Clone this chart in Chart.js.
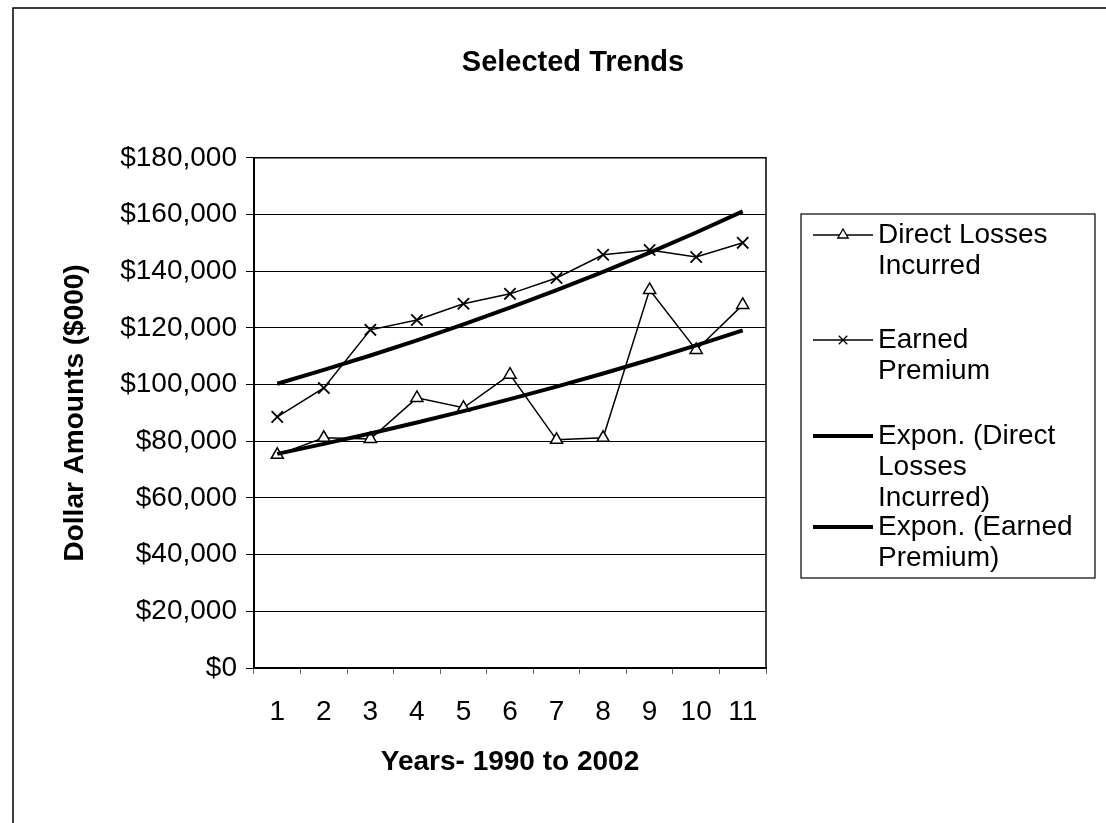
<!DOCTYPE html>
<html>
<head>
<meta charset="utf-8">
<title>Selected Trends</title>
<script src="https://cdn.jsdelivr.net/npm/chart.js@4.4.1/dist/chart.umd.min.js"></script>
<style>
    html, body { margin: 0; padding: 0; background: #fff; }
    #wrap { width: 1106px; height: 823px; }
</style>
</head>
<body>
<div id="wrap"><canvas id="chart-trends" width="1106" height="823"></canvas></div>
<script>
// === Dados do gráfico ===
// Anos (1 = 1990 ... 11)
const years = ['1', '2', '3', '4', '5', '6', '7', '8', '9', '10', '11'];

// Valores em $000
const directLosses = [75200, 81200, 80800, 95300, 91800, 103500, 80500, 81200, 133400, 112200, 128100];
const earnedPremium = [88600, 98800, 119300, 122800, 128500, 132000, 137600, 145800, 147500, 145000, 150000];

// Marcas do eixo Y
const yTickValues = [0, 20000, 40000, 60000, 80000, 100000, 120000, 140000, 160000, 180000];
const yTickLabels = ['$0', '$20,000', '$40,000', '$60,000', '$80,000', '$100,000', '$120,000', '$140,000', '$160,000', '$180,000'];

const FONT = "'Liberation Sans', Arial, Helvetica, sans-serif";

// Função para calcular a tendência exponencial (mínimos quadrados sobre ln y)
function expTrend(values) {
    const n = values.length;
    const xs = values.map((v, i) => i + 1);
    const ln = values.map(v => Math.log(v));
    const mx = xs.reduce((a, b) => a + b, 0) / n;
    const my = ln.reduce((a, b) => a + b, 0) / n;
    let sxy = 0, sxx = 0;
    xs.forEach((x, i) => {
        sxy += (x - mx) * (ln[i] - my);
        sxx += (x - mx) * (x - mx);
    });
    const b = sxy / sxx;
    const a = my - b * mx;
    return xs.map(x => Math.exp(a + b * x));
}

// Plugin para moldura externa, borda da área do gráfico e legenda
const frameLegendPlugin = {
    id: 'frameLegend',
    afterDraw(chart, args, opts) {
        const ctx = chart.ctx;
        const area = chart.chartArea;
        ctx.save();

        // Borda superior e direita da área de plotagem
        ctx.strokeStyle = '#000';
        ctx.lineWidth = 1.5;
        ctx.beginPath();
        ctx.moveTo(area.left, area.top);
        ctx.lineTo(area.right, area.top);
        ctx.lineTo(area.right, area.bottom);
        ctx.stroke();

        // Moldura externa
        ctx.lineWidth = 1.5;
        ctx.beginPath();
        ctx.moveTo(13, 823);
        ctx.lineTo(13, 8);
        ctx.lineTo(1106, 8);
        ctx.stroke();

        // Caixa da legenda
        const box = opts.box;
        ctx.lineWidth = 1.2;
        ctx.strokeRect(box.left, box.top, box.right - box.left, box.bottom - box.top);

        ctx.font = `${opts.fontSize}px ${FONT}`;
        ctx.textBaseline = 'middle';
        ctx.textAlign = 'left';
        ctx.fillStyle = '#000';

        chart.data.datasets.forEach((ds, i) => {
            const y = opts.rowY[i];
            // Amostra da linha
            ctx.strokeStyle = '#000';
            ctx.lineWidth = ds.borderWidth;
            ctx.beginPath();
            ctx.moveTo(opts.sampleX0, y);
            ctx.lineTo(opts.sampleX1, y);
            ctx.stroke();
            // Marcador
            if (ds.pointRadius > 0) {
                ctx.fillStyle = '#fff';
                ctx.lineWidth = 1.3;
                Chart.helpers.drawPoint(ctx, {
                    pointStyle: ds.pointStyle,
                    radius: opts.markerRadius,
                    rotation: 0,
                    borderWidth: 1.3
                }, (opts.sampleX0 + opts.sampleX1) / 2, y);
            }
            // Texto com quebra de linha
            ctx.fillStyle = '#000';
            const words = ds.label.split(' ');
            const lines = [];
            let line = '';
            words.forEach(w => {
                const test = line ? line + ' ' + w : w;
                if (ctx.measureText(test).width > opts.textWidth && line) {
                    lines.push(line);
                    line = w;
                } else {
                    line = test;
                }
            });
            lines.push(line);
            lines.forEach((l, k) => {
                ctx.fillText(l, opts.textX, y + k * opts.lineHeight);
            });
        });
        ctx.restore();
    }
};

// Criar gráfico
function createTrendsChart() {
    const ctx = document.getElementById('chart-trends');

    window.trendsChart = new Chart(ctx, {
        type: 'line',
        data: {
            labels: years,
            datasets: [{
                label: 'Direct Losses Incurred',
                data: directLosses,
                borderColor: '#000',
                borderWidth: 1.5,
                pointStyle: 'triangle',
                pointRadius: 7,
                pointBackgroundColor: '#fff',
                pointBorderColor: '#000',
                pointBorderWidth: 1.5,
                tension: 0,
                order: 3
            }, {
                label: 'Earned Premium',
                data: earnedPremium,
                borderColor: '#000',
                borderWidth: 1.5,
                pointStyle: 'crossRot',
                pointRadius: 8,
                pointBorderColor: '#000',
                pointBorderWidth: 1.8,
                tension: 0,
                order: 4
            }, {
                label: 'Expon. (Direct Losses Incurred)',
                data: expTrend(directLosses),
                borderColor: '#000',
                borderWidth: 4,
                pointRadius: 0,
                tension: 0,
                order: 1
            }, {
                label: 'Expon. (Earned Premium)',
                data: expTrend(earnedPremium),
                borderColor: '#000',
                borderWidth: 4,
                pointRadius: 0,
                tension: 0,
                order: 2
            }]
        },
        options: {
            responsive: false,
            animation: false,
            layout: { padding: { left: 40, right: 0, top: 0, bottom: 0 } },
            plugins: {
                legend: { display: false },
                tooltip: { enabled: false },
                title: {
                    display: true,
                    text: 'Selected Trends',
                    color: '#000',
                    font: { family: FONT, size: 29, weight: 'bold' },
                    padding: { top: 46, bottom: 77 }
                },
                frameLegend: {
                    box: { left: 801, top: 214, right: 1095, bottom: 578 },
                    rowY: [235, 340, 436, 527],
                    sampleX0: 813,
                    sampleX1: 873,
                    markerRadius: 6,
                    textX: 878,
                    textWidth: 200,
                    lineHeight: 31,
                    fontSize: 28
                }
            },
            scales: {
                x: {
                    offset: true,
                    grid: {
                        offset: true,
                        drawOnChartArea: false,
                        drawTicks: true,
                        tickLength: 6,
                        color: '#666'
                    },
                    border: { color: '#000', width: 2 },
                    ticks: {
                        color: '#000',
                        font: { family: FONT, size: 28 },
                        padding: 21,
                        maxRotation: 0,
                        autoSkip: false
                    },
                    title: {
                        display: true,
                        text: 'Years- 1990 to 2002',
                        color: '#000',
                        font: { family: FONT, size: 28, weight: 'bold' },
                        padding: { top: 0, bottom: 44 }
                    },
                    afterFit: function(scale) {
                        scale.height = 155;
                    }
                },
                y: {
                    min: 0,
                    max: 180000,
                    afterBuildTicks: function(scale) {
                        scale.ticks = yTickValues.map(v => ({ value: v }));
                    },
                    ticks: {
                        color: '#000',
                        font: { family: FONT, size: 28 },
                        padding: 9,
                        callback: function(value, index) {
                            return yTickLabels[index];
                        }
                    },
                    grid: { color: '#000', lineWidth: 1, tickLength: 8, drawTicks: true },
                    border: { color: '#000', width: 2 },
                    title: {
                        display: true,
                        text: 'Dollar Amounts ($000)',
                        color: '#000',
                        font: { family: FONT, size: 28, weight: 'bold' },
                        padding: { top: 18, bottom: 0 }
                    },
                    afterFit: function(scale) {
                        scale.width = 214;
                    }
                },
                // Espaço reservado para a legenda à direita
                legendSpace: {
                    type: 'linear',
                    position: 'right',
                    display: true,
                    grid: { display: false, drawTicks: false },
                    border: { display: false },
                    ticks: { display: false },
                    afterFit: function(scale) {
                        scale.width = 340;
                    }
                }
            }
        },
        plugins: [frameLegendPlugin]
    });
}

document.addEventListener('DOMContentLoaded', function() {
    createTrendsChart();
});
</script>
</body>
</html>
